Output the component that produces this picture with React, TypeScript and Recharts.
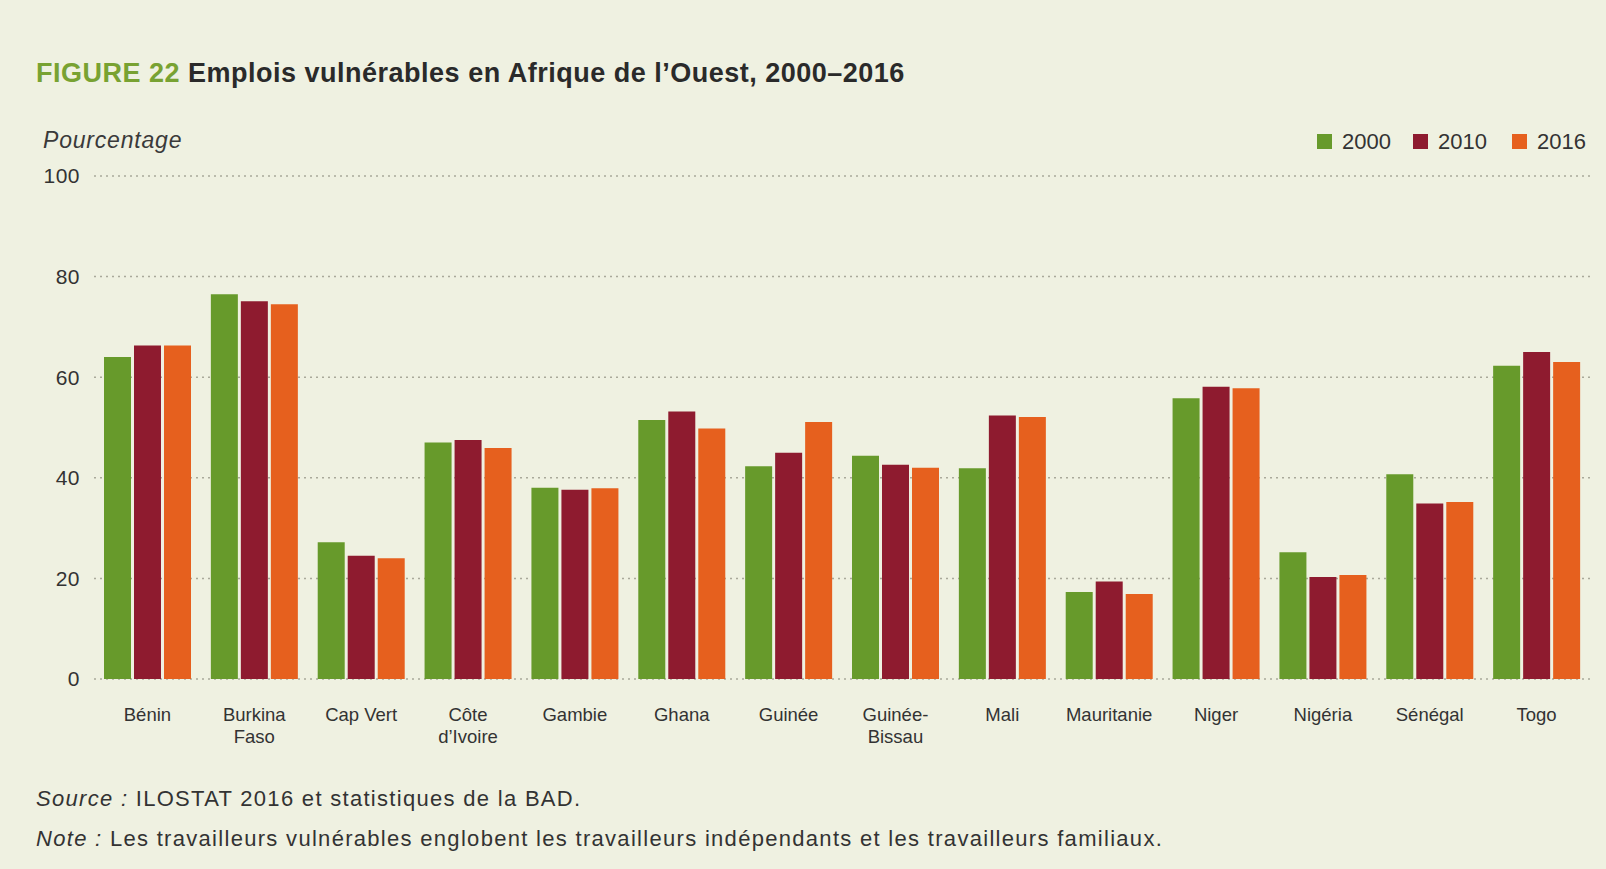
import React from "react";
import { BarChart, Bar, XAxis, YAxis, CartesianGrid } from "recharts";

const categories = [
  "Bénin",
  "Burkina\nFaso",
  "Cap Vert",
  "Côte\nd’Ivoire",
  "Gambie",
  "Ghana",
  "Guinée",
  "Guinée-\nBissau",
  "Mali",
  "Mauritanie",
  "Niger",
  "Nigéria",
  "Sénégal",
  "Togo",
];
const values2000 = [64.0, 76.5, 27.2, 47.0, 38.0, 51.5, 42.3, 44.4, 41.9, 17.3, 55.8, 25.2, 40.7, 62.3];
const values2010 = [66.3, 75.1, 24.5, 47.5, 37.6, 53.2, 45.0, 42.6, 52.4, 19.4, 58.1, 20.3, 34.9, 65.0];
const values2016 = [66.3, 74.5, 24.0, 45.9, 37.9, 49.8, 51.1, 42.0, 52.1, 16.9, 57.8, 20.7, 35.2, 63.0];
const seriesNames = ["2000", "2010", "2016"];
const yTicks = [0, 20, 40, 60, 80, 100];

const colors = ["#679a2b", "#8e1b2f", "#e6601e"];
const BG = "#eff1e1";
const TEXT = "#333333";
const FONT = "'Liberation Sans', Arial, Helvetica, sans-serif";

const data = categories.map((c, i) => ({
  name: c,
  v2000: values2000[i],
  v2010: values2010[i],
  v2016: values2016[i],
}));

const XTick = (props: any) => {
  const { x, y, payload } = props;
  const lines = String(payload.value).split("\n");
  return (
    <g transform={`translate(${x},${y})`}>
      {lines.map((l: string, i: number) => (
        <text
          key={i}
          x={0}
          y={42 + i * 22}
          textAnchor="middle"
          fontSize={18.5}
          fontFamily={FONT}
          fill={TEXT}
        >
          {l}
        </text>
      ))}
    </g>
  );
};

export default function App() {
  const legendX = [1317, 1413, 1512];
  return (
    <div
      style={{
        position: "absolute",
        left: 0,
        top: 0,
        width: 1606,
        height: 869,
        background: BG,
        overflow: "hidden",
      }}
    >
      <div style={{ position: "absolute", left: 0, top: 0 }}>
        <BarChart
          width={1606}
          height={869}
          data={data}
          margin={{ top: 176, right: 16, bottom: 0, left: 0 }}
          barCategoryGap={10}
          barGap={3}
        >
          <CartesianGrid vertical={false} stroke="#a9a99a" strokeDasharray="2 4" strokeWidth={1.5} />
          <XAxis
            dataKey="name"
            axisLine={false}
            tickLine={false}
            tickSize={0}
            tickMargin={0}
            interval={0}
            height={190}
            tick={<XTick />}
          />
          <YAxis
            domain={[0, 100]}
            ticks={yTicks}
            axisLine={false}
            tickLine={false}
            tickSize={0}
            tickMargin={14}
            width={94}
            tick={{ fill: TEXT, fontSize: 21, fontFamily: FONT, letterSpacing: 0.5 }}
          />
          <Bar dataKey="v2000" name={seriesNames[0]} fill={colors[0]} isAnimationActive={false} />
          <Bar dataKey="v2010" name={seriesNames[1]} fill={colors[1]} isAnimationActive={false} />
          <Bar dataKey="v2016" name={seriesNames[2]} fill={colors[2]} isAnimationActive={false} />
        </BarChart>
      </div>
      <svg
        width={1606}
        height={869}
        style={{ position: "absolute", left: 0, top: 0, pointerEvents: "none" }}
      >
        <text x={36} y={82} fontFamily={FONT} fontSize={27} fontWeight="bold" fill="#2a2a2a" letterSpacing={0.5}>
          <tspan fill="#78a232">FIGURE 22</tspan>
          <tspan> Emplois vulnérables en Afrique de l’Ouest, 2000–2016</tspan>
        </text>
        <text x={43} y={148} fontFamily={FONT} fontSize={23} fontStyle="italic" fill="#3a3a3a" letterSpacing={0.8}>
          Pourcentage
        </text>
        {seriesNames.map((s, i) => (
          <g key={s}>
            <rect x={legendX[i]} y={134} width={15} height={15} fill={colors[i]} />
            <text x={legendX[i] + 25} y={149} fontFamily={FONT} fontSize={22} fill={TEXT}>
              {s}
            </text>
          </g>
        ))}
        <text x={36} y={806} fontFamily={FONT} fontSize={22} fill={TEXT} letterSpacing={1.3}>
          <tspan fontStyle="italic">Source :</tspan>
          <tspan> ILOSTAT 2016 et statistiques de la BAD.</tspan>
        </text>
        <text x={36} y={846} fontFamily={FONT} fontSize={22} fill={TEXT} letterSpacing={1.3}>
          <tspan fontStyle="italic">Note :</tspan>
          <tspan> Les travailleurs vulnérables englobent les travailleurs indépendants et les travailleurs familiaux.</tspan>
        </text>
      </svg>
    </div>
  );
}
